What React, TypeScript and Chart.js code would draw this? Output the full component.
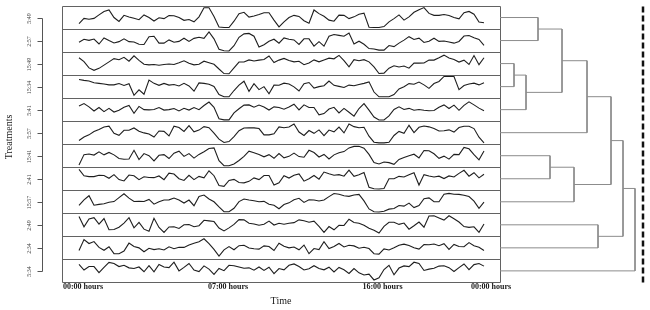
import React, { useEffect, useRef } from "react";
import { Chart, registerables } from "chart.js";

Chart.register(...registerables);

const SERIF = "'Liberation Serif', 'Times New Roman', serif";

// Treatments, top panel to bottom panel
const treatments = ["5:49", "2:57", "15:49", "15:34", "5:41", "5:57", "15:41", "2:41", "15:57", "2:49", "2:34", "5:34"];

// Time axis: tick positions (sample index) and their labels
const tickPositions = [0.8, 29.8, 60.7, 82.4];
const tickLabels = ["00:00 hours", "07:00 hours", "16:00 hours", "00:00 hours"];

// Activity series (relative level 0..10 within each panel), one value per sample
const s549 = [2.2,4.6,4.2,4.6,6.2,7.8,8.5,5.0,3.2,6.0, 5.2,4.7,4.0,6.2,5.0,3.4,4.9,4.5,5.9,5.8, 5.0,3.7,4.1,3.0,5.3,9.5,9.5,5.5,0.6,0.4, 0.4,3.3,6.8,7.4,5.2,5.7,6.4,7.2,7.2,3.8, 0.7,3.0, 5.0,6.0,5.5,3.5,2.4,8.5,6.8,5.6,3.8,3.3, 6.1,6.0,4.5,5.3,6.5,7.0,0.5,0.4,0.4,0.8, 3.0,4.5,6.2,3.8,5.3,7.4,8.6,9.6,6.9,6.0, 6.0,6.4,5.9,5.0,4.4,7.2,7.8,6.5,2.9,2.6];
const s257 = [4.2,5.6,5.1,5.7,3.4,6.2,5.0,3.9,4.5,5.8, 4.5,4.3,3.3,3.2,6.8,7.0,3.8,3.8,5.3,4.2, 4.6,6.1,4.6,6.0,6.5,6.0,9.0,5.8,1.0,0.3, 0.2,2.6,6.5,8.1,8.3,7.0,2.0,3.1,4.7,5.6, 3.8,6.2, 5.6,5.3,3.2,5.8,5.8,2.4,4.5,2.4,7.0,7.8, 7.4,7.0,8.5,3.4,4.7,3.3,1.3,1.1,0.6,0.6, 2.7,2.2,3.8,5.2,6.8,5.5,6.1,4.1,4.7,6.1, 4.6,4.8,4.3,3.8,4.6,7.1,7.3,6.3,5.5,2.8];
const s1549 = [7.7,5.9,3.0,1.9,2.8,4.3,5.8,7.3,6.8,7.9, 6.1,8.6,6.5,4.7,4.4,4.6,4.2,4.6,4.8,4.6, 5.4,6.3,5.2,4.4,4.7,6.1,5.4,4.7,2.5,0.4, 0.3,3.0,5.7,5.7,6.7,6.2,6.6,6.9,8.5,5.5, 6.6,7.4, 6.4,5.8,6.1,4.5,5.3,6.7,5.8,6.7,7.5,7.2, 8.8,6.4,3.5,6.8,6.3,6.8,5.8,3.5,0.4,0.6, 2.9,4.0,3.4,3.9,2.9,5.2,5.2,5.3,6.6,6.6, 7.7,8.9,7.6,6.9,5.7,6.6,4.6,8.7,4.5,7.7];
const s1534 = [8.3,7.9,7.6,6.8,6.5,6.2,5.8,5.8,6.4,5.5, 6.3,1.0,3.5,1.5,8.0,6.5,5.6,6.5,5.7,6.0, 5.3,6.5,5.3,2.9,6.7,6.5,6.1,5.1,1.3,0.3, 0.3,3.2,5.7,7.5,2.8,6.4,3.6,5.0,1.7,5.7, 5.6,6.6, 6.2,4.9,3.0,6.3,6.9,4.3,5.0,5.4,7.6,5.6, 5.1,4.6,5.7,5.4,6.0,6.5,7.2,2.5,0.3,0.3, 0.3,1.3,3.9,4.9,6.4,6.1,7.1,5.8,4.2,6.4, 7.4,9.7,9.7,9.7,3.6,5.5,6.2,6.6,5.8,6.8];
const s541 = [6.7,7.8,6.3,4.4,6.0,4.1,5.6,3.9,4.7,6.1, 6.9,3.3,6.5,5.0,4.9,5.1,6.0,4.8,5.0,5.5, 4.4,5.6,4.8,6.0,5.0,6.9,8.5,6.1,0.8,0.3, 0.3,3.5,5.4,7.1,7.2,6.1,7.1,6.2,4.8,6.3, 6.0,5.2, 6.2,7.5,4.9,7.2,6.0,6.0,2.6,3.2,5.3,6.1, 3.5,5.6,3.8,2.0,5.5,7.8,4.8,1.6,0.2,0.2, 2.1,5.1,6.3,5.1,5.6,4.7,5.1,4.7,4.5,4.6, 6.1,7.2,5.5,7.1,4.7,7.0,8.6,7.2,5.7,4.5];
const s557 = [1.4,3.0,4.0,5.5,6.5,7.6,8.0,4.7,3.8,6.1, 6.1,7.2,5.7,4.9,4.4,3.0,5.8,5.6,3.5,8.0, 7.4,5.6,8.3,5.4,6.2,7.8,7.3,4.8,2.0,0.5, 0.9,3.2,5.9,7.2,7.3,7.2,6.9,4.0,4.0,4.5, 7.7,7.3, 7.6,9.0,5.3,3.7,6.0,4.7,6.3,3.6,6.2,5.4, 7.6,4.9,9.0,7.8,7.3,7.5,3.4,0.6,0.3,0.3, 0.6,3.7,5.6,4.7,8.4,5.0,7.5,8.1,7.7,6.9, 5.8,5.9,6.3,5.3,7.4,8.0,8.0,6.9,2.9,0.3];
const s1541 = [0.7,5.5,5.8,5.3,6.8,5.4,6.5,5.4,3.7,3.4, 3.5,7.5,3.2,6.0,5.0,2.6,5.2,5.5,3.7,6.2, 7.1,4.7,6.0,3.9,5.6,6.8,8.3,8.6,2.7,0.4, 0.4,1.2,2.8,4.7,7.1,6.4,5.6,4.5,5.5,3.8, 6.0,4.0, 4.7,6.2,4.6,4.3,7.5,6.5,4.4,5.6,3.5,5.4, 6.4,6.9,8.6,9.3,9.4,8.5,5.6,1.8,1.2,2.1, 1.8,1.0,3.3,4.2,5.0,5.7,4.0,7.4,7.3,5.9, 3.8,4.8,3.4,5.6,5.5,8.8,8.2,5.5,3.1,7.2];
const s241 = [9.3,6.4,6.0,6.0,6.6,6.5,5.2,6.9,4.6,4.0, 6.7,6.4,4.6,5.9,5.6,5.5,6.3,4.6,7.6,7.2, 5.0,4.2,6.6,4.6,6.1,5.4,8.7,6.4,1.9,1.5, 4.2,4.7,3.3,3.1,3.8,5.4,4.6,6.5,6.5,2.1, 3.1,6.4, 5.3,6.6,7.2,3.9,5.0,6.5,4.8,8.1,7.3,6.6, 6.9,6.2,9.0,6.1,6.8,7.9,1.1,0.4,0.3,0.5, 5.0,5.0,6.1,5.8,6.9,7.8,2.1,6.9,6.3,5.8, 6.2,5.1,6.3,5.8,7.5,8.9,6.2,7.8,5.4,7.1];
const s1557 = [3.3,5.9,7.8,3.4,3.8,4.1,4.8,5.1,6.9,8.7, 6.7,5.1,5.2,5.1,6.1,3.9,5.0,5.8,5.9,6.7, 5.8,4.4,5.8,3.2,7.5,8.1,6.3,5.0,2.6,0.4, 0.4,2.0,5.1,6.3,5.8,5.5,5.0,5.2,3.9,3.4, 1.8,3.7, 4.5,5.9,6.6,4.7,5.9,5.8,5.4,5.8,7.4,8.8, 8.5,7.8,7.5,8.1,8.4,5.4,1.7,0.4,0.3,0.6, 1.6,1.9,3.3,3.0,4.4,2.3,3.3,6.4,6.8,5.0, 5.0,8.5,8.9,8.5,8.4,8.0,7.4,5.3,2.0,4.8];
const s249 = [8.8,4.1,7.7,8.3,5.3,7.9,2.7,2.8,3.9,5.8, 8.3,3.6,6.1,3.0,2.0,8.0,3.8,1.5,4.0,4.1, 3.3,5.0,5.1,4.1,4.6,7.1,6.8,6.5,3.5,2.2, 3.6,5.2,7.4,7.3,5.7,5.4,4.8,5.3,6.7,4.9, 5.7,5.3, 5.7,6.0,7.3,6.9,6.2,6.7,4.3,1.5,4.2,2.7, 4.8,4.7,7.6,6.1,5.7,4.8,3.4,2.5,1.2,4.3, 6.2,6.2,5.2,5.8,3.0,4.6,6.3,3.9,9.1,9.2, 8.2,7.2,9.2,7.8,6.3,4.2,3.8,4.1,1.5,5.4];
const s234 = [3.8,8.8,7.0,7.9,5.2,3.9,5.5,2.3,2.3,3.5, 7.2,5.6,5.0,3.2,4.8,4.2,4.6,4.0,5.5,4.6, 5.3,5.2,6.3,7.1,7.8,9.2,7.0,4.3,1.2,4.1, 5.6,4.1,6.0,6.2,4.9,4.6,4.4,5.9,5.6,3.8, 7.1,5.7, 5.0,5.4,4.1,6.3,2.3,4.7,4.2,7.8,4.7,5.6, 7.0,5.4,6.2,5.9,4.8,5.3,4.7,2.3,2.1,4.5, 4.0,5.0,6.2,6.7,6.1,5.0,4.4,6.5,6.4,6.8, 6.0,6.9,4.3,6.6,5.6,5.5,7.4,6.0,5.3,3.8];
const s534 = [8.0,5.4,7.0,7.0,4.2,6.6,8.9,8.4,7.0,7.6, 6.4,6.1,6.8,4.6,7.4,4.6,8.0,6.8,6.5,9.0, 5.0,6.6,8.4,5.4,4.7,7.3,5.8,3.4,6.1,5.1, 7.6,7.4,6.8,6.2,6.4,5.3,6.8,5.2,6.7,3.7, 6.1,5.5, 7.6,8.2,7.0,5.4,6.0,7.4,6.1,5.5,6.7,4.5, 6.6,5.5,3.8,6.1,4.1,3.1,3.5,0.8,1.8,5.6, 7.6,3.2,6.3,7.3,7.0,9.0,8.4,5.2,5.8,6.2, 7.2,7.4,6.5,4.7,6.5,8.2,5.6,7.9,8.4,7.2];

const seriesValues = [s549, s257, s1549, s1534, s541, s557, s1541, s241, s1557, s249, s234, s534];

// Hierarchical clustering (hclust-style merge table: negative = leaf row, positive = earlier merge)
const mergeLeft = [-1, -3, 2, 1, 4, -7, 6, 5, -10, 8, 10];
const mergeRight = [-2, -4, -5, 3, -6, -8, -9, 7, -11, 9, -12];
const mergeHeight = [3.8, 1.4, 2.6, 6.2, 8.7, 5.0, 7.4, 11.1, 9.8, 12.3, 13.5];
const cutHeight = 14.3;

export default function App() {
  const canvasRef = useRef<HTMLCanvasElement | null>(null);

  useEffect(() => {
    const canvas = canvasRef.current;
    if (!canvas) return;
    const nRows = treatments.length;
    const datasets: any[] = [];

    seriesValues.forEach((vals, r) => {
      const base = nRows - 1 - r;
      datasets.push({
        label: treatments[r],
        data: vals.map((v, i) => ({ x: i, y: base + 0.03 + (0.94 * v) / 10 })),
        borderColor: "#1e1e1e",
        borderWidth: 1.1,
        pointRadius: 0,
        tension: 0,
        fill: false,
        xAxisID: "x",
        yAxisID: "y",
      });
    });

    const nodeY: number[] = [];
    const nodeH: number[] = [];
    const yOf = (id: number) => (id < 0 ? nRows + id + 0.5 : nodeY[id - 1]);
    const hOf = (id: number) => (id < 0 ? 0 : nodeH[id - 1]);
    mergeHeight.forEach((h, m) => {
      const l = mergeLeft[m];
      const rr = mergeRight[m];
      const yl = yOf(l);
      const yr = yOf(rr);
      datasets.push({
        label: "merge" + (m + 1),
        data: [
          { x: hOf(l), y: yl },
          { x: h, y: yl },
          { x: h, y: yr },
          { x: hOf(rr), y: yr },
        ],
        borderColor: "#8c8c8c",
        borderWidth: 1,
        pointRadius: 0,
        tension: 0,
        fill: false,
        clip: false,
        xAxisID: "xd",
        yAxisID: "y",
      });
      nodeY.push((yl + yr) / 2);
      nodeH.push(h);
    });

    datasets.push({
      label: "cut",
      data: [
        { x: cutHeight, y: 0 },
        { x: cutHeight, y: nRows },
      ],
      borderColor: "#111111",
      borderWidth: 2.5,
      borderDash: [6, 3],
      pointRadius: 0,
      fill: false,
      clip: false,
      xAxisID: "xd",
      yAxisID: "y",
    });

    const line = (ctx: CanvasRenderingContext2D, x1: number, y1: number, x2: number, y2: number) => {
      ctx.beginPath();
      ctx.moveTo(x1, y1);
      ctx.lineTo(x2, y2);
      ctx.stroke();
    };

    const panelPlugin = {
      id: "panelFrame",
      beforeDatasetsDraw(chart: any) {
        const ctx: CanvasRenderingContext2D = chart.ctx;
        const ys = chart.scales.y;
        const xs = chart.scales.x;
        const L = Math.round(xs.left) + 0.5;
        const R = Math.round(xs.right) + 0.5;
        ctx.save();
        ctx.strokeStyle = "#626262";
        ctx.lineWidth = 1;
        for (let k = 0; k <= nRows; k++) {
          const py = Math.round(ys.getPixelForValue(k)) + 0.5;
          line(ctx, L, py, R, py);
        }
        const T = Math.round(ys.getPixelForValue(nRows)) + 0.5;
        const B = Math.round(ys.getPixelForValue(0)) + 0.5;
        line(ctx, L, T, L, B);
        line(ctx, R, T, R, B);
        ctx.restore();
      },
      afterDraw(chart: any) {
        const ctx: CanvasRenderingContext2D = chart.ctx;
        const ys = chart.scales.y;
        ctx.save();
        ctx.strokeStyle = "#555555";
        ctx.lineWidth = 1;
        const axX = 42.5;
        const yTop = Math.round(ys.getPixelForValue(nRows - 0.5)) + 0.5;
        const yBot = Math.round(ys.getPixelForValue(0.5)) + 0.5;
        line(ctx, axX, yTop, axX, yBot);
        ctx.fillStyle = "#444444";
        ctx.font = `6px ${SERIF}`;
        ctx.textAlign = "center";
        ctx.textBaseline = "middle";
        treatments.forEach((t, r) => {
          const py = Math.round(ys.getPixelForValue(nRows - r - 0.5)) + 0.5;
          line(ctx, 37.5, py, axX, py);
          ctx.save();
          ctx.translate(29, py);
          ctx.rotate(-Math.PI / 2);
          ctx.fillText(t, 0, 0);
          ctx.restore();
        });
        ctx.fillStyle = "#1a1a1a";
        ctx.font = `10px ${SERIF}`;
        ctx.save();
        ctx.translate(9, 137);
        ctx.rotate(-Math.PI / 2);
        ctx.fillText("Treatments", 0, 0);
        ctx.restore();
        ctx.restore();
      },
    };

    const chart = new Chart(canvas, {
      type: "line",
      data: { datasets },
      options: {
        animation: false,
        responsive: false,
        devicePixelRatio: 1,
        events: [],
        layout: { padding: { left: 62, right: 150, top: 6, bottom: 3 } },
        plugins: { legend: { display: false }, tooltip: { enabled: false } },
        scales: {
          x: {
            type: "linear",
            position: "bottom",
            min: -3.4,
            max: 84.2,
            grid: { display: false, drawTicks: false },
            border: { display: false },
            afterBuildTicks: (axis: any) => {
              axis.ticks = tickPositions.map((v) => ({ value: v }));
            },
            ticks: {
              autoSkip: false,
              maxRotation: 0,
              minRotation: 0,
              padding: 0.6,
              color: "#1a1a1a",
              font: { family: SERIF, size: 8, weight: "bold", lineHeight: 1.1 },
              callback: (_v: any, i: number) => tickLabels[i] ?? "",
            },
            title: {
              display: true,
              text: "Time",
              color: "#1a1a1a",
              font: { family: SERIF, size: 10 },
              padding: { top: 2.6, bottom: 0 },
            },
          },
          xd: { type: "linear", position: "bottom", display: false, min: -43.8, max: 0 },
          y: { type: "linear", display: false, min: 0, max: nRows },
        },
      } as any,
      plugins: [panelPlugin],
    });

    return () => chart.destroy();
  }, []);

  return (
    <div style={{ position: "fixed", left: 0, top: 0, width: 650, height: 310, background: "#ffffff" }}>
      <canvas ref={canvasRef} width={650} height={310} style={{ display: "block", width: 650, height: 310 }} />
    </div>
  );
}
